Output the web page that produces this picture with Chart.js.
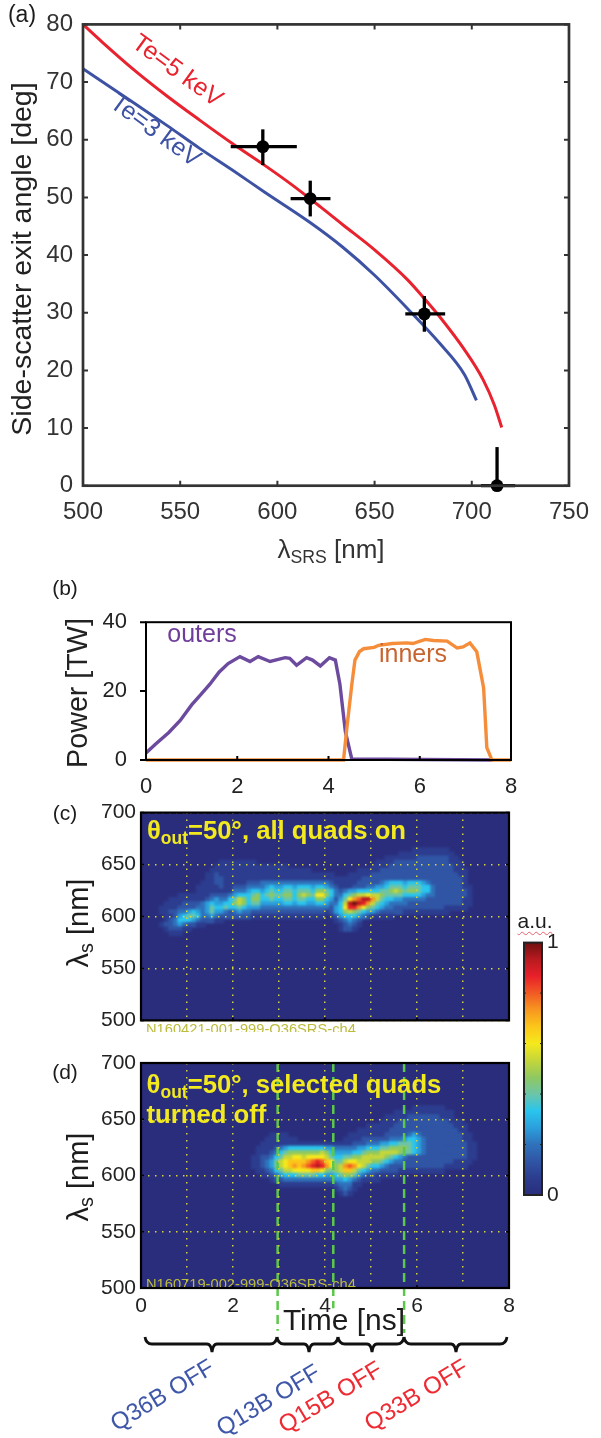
<!DOCTYPE html>
<html>
<head>
<meta charset="utf-8">
<title>SRS side-scatter</title>
<script src="https://cdn.jsdelivr.net/npm/chart.js@4/dist/chart.umd.min.js"></script>
<style>
  html, body { margin: 0; padding: 0; background: #fff; overflow: hidden; }
  #page { position: relative; width: 601px; height: 1438px; overflow: hidden; font-family: "Liberation Sans", sans-serif; color: #222; filter: blur(0.45px); }
  #page canvas { position: absolute; left: 0; }
  .txt { position: absolute; white-space: nowrap; line-height: 1; transform-origin: center; }
  .txt sub { font-size: 68%; line-height: 0; vertical-align: -0.3em; }
</style>
</head>
<body>
<div id="page"></div>
<script>
/* (a) */
const te5Lambda = [500, 510, 527, 543.5, 560, 577, 592, 607, 622, 633.5, 650, 667, 677, 683.5, 696.2, 705.8, 711.6, 715.4];
const te5Angle = [80, 76.9, 71.9, 67.5, 63.4, 59.3, 55.9, 52.3, 48.4, 45.3, 40.9, 35.7, 31.9, 29.3, 23.6, 18.4, 14, 10.1];
const te3Lambda = [500, 527, 543.5, 560, 577, 593.5, 617, 633.5, 650, 667, 683.5, 696.2, 702.4];
const te3Angle = [72.3, 66.2, 62.4, 58.5, 54.7, 50.9, 45.6, 41.4, 36.5, 30.7, 24.7, 19.3, 14.8];
const dataLambda = [592.5, 616.9, 675.6, 713];
const dataAngle = [58.8, 49.8, 29.8, 0];
const lambdaLow = [576, 606.8, 665.8, 704.7];
const lambdaHigh = [610, 627.3, 686.3, 722.3];
const angleLow = [55.6, 46.7, 26.7, 0];
const angleHigh = [61.8, 52.9, 32.9, 6.7];

/* (b) */
const outersTime = [0, 0.2, 0.5, 0.75, 1, 1.2, 1.4, 1.6, 1.8, 2.06, 2.28, 2.46, 2.72, 3.05, 3.15, 3.3, 3.52, 3.65, 3.82, 4.02, 4.15, 4.25, 4.37, 4.51, 7.6];
const outersPower = [2, 4.5, 8, 11.5, 16, 19, 22, 25.5, 28, 30, 28.6, 30, 28.6, 29.7, 29.5, 27.5, 29.7, 29, 27.3, 29.7, 29, 22, 8.2, 0.3, 0];
const innersTime = [0, 4.33, 4.4, 4.51, 4.58, 4.68, 4.77, 5, 5.1, 5.4, 5.72, 5.85, 6.12, 6.3, 6.6, 6.82, 6.95, 7.1, 7.25, 7.4, 7.47, 7.52, 7.58, 8];
const innersPower = [0, 0, 9, 21.8, 29, 31.5, 32.3, 32.7, 33.3, 33.8, 34, 33.8, 35, 34.7, 34.5, 32.5, 32.8, 34, 31.4, 20.9, 3.6, 2, 0, 0];

/* (c), (d): one hex digit per cell, 0.1 ns wide, one row per wavelength */
const heatLambda = [664, 660, 656, 652, 648, 644, 640, 636, 632, 628, 624, 620, 616, 612, 608, 604, 600, 596, 592, 588, 584];
const heatRowsC = [
  "0000000000 0000000000 0000000000 0000000000 0000000000 0000000001 1111111000 0000000000",
  "0000000000 0000000000 0000000000 0000000000 0000000000 0000001111 1111111100 0000000000",
  "0000000000 0000000000 0000000000 0000000000 0000000000 0001111111 2222222110 0000000000",
  "0000000000 0000000111 1111100000 0000000000 0000000000 0111122222 2222222111 0000000000",
  "0000000000 0000001111 1111111111 1100000000 0000000000 1111222222 2222222211 0000000000",
  "0000000000 0000011111 1111111111 1111111000 0000000111 1122222222 2222222211 1000000000",
  "0000000000 0000112111 1111111111 1111111111 1100011111 2222222222 2222222221 1000000000",
  "0000000000 0000112211 1111111111 1111111111 1111111122 2222222222 2222222222 1000000000",
  "0000000000 0001112211 1112223333 3333333333 3211111222 2234555455 5432222222 1000000000",
  "0000000000 0011111211 2223333454 4554555455 4321112223 3445666566 6553222222 1100000000",
  "0000000000 0011111111 3334554565 5665666577 6532344555 5566787677 6553222222 2100000000",
  "0000000011 1111122223 4555675676 6775787699 7533567889 8876666555 5433222222 2100000000",
  "0000001111 1111234335 6875775565 5665665577 542469bcee b865544333 3322222222 1100000000",
  "0000011112 2223454455 7875664444 4554554455 43358efedb 8654333322 2222222222 1100000000",
  "0000111122 2233465565 5654443333 3333333333 32459ddb97 6543322222 2222221111 1000000000",
  "0000112233 4543464432 3433222222 2222222222 1245787654 4322222111 1111111000 0000000000",
  "0000011245 6653343222 2222111111 1111111111 0124555432 1111100000 0000000000 0000000000",
  "0000012355 5432221100 0000000000 0000000000 0012343200 0000000000 0000000000 0000000000",
  "0000122343 2211000000 0000000000 0000000000 0001232100 0000000000 0000000000 0000000000",
  "0000012221 1000000000 0000000000 0000000000 0001221000 0000000000 0000000000 0000000000",
  "0000001110 0000000000 0000000000 0000000000 0000000000 0000000000 0000000000 0000000000"
];
const heatRowsD = [
  "0000000000 0000000000 0000000000 0000000000 0000000000 0000000000 0000000000 0000000000",
  "0000000000 0000000000 0000000000 0000000000 0000000000 0000000001 1111110000 0000000000",
  "0000000000 0000000000 0000000000 0000000000 0000000000 0000011111 1111111100 0000000000",
  "0000000000 0000000000 0000000000 0000000000 0000000000 0001111122 2222211100 0000000000",
  "0000000000 0000000000 0000000000 0000000000 0000000000 0011112222 2222222111 0000000000",
  "0000000000 0000000000 0000000000 0000000000 0000000001 1111122222 2222222211 1000000000",
  "0000000000 0000000000 0000000000 0000000000 0000000111 1111222222 2222222221 1000000000",
  "0000000000 0000000000 0000000011 1100000000 0000011111 1112222234 3222222222 1100000000",
  "0000000000 0000000000 0000000111 1111000000 0000111122 2222333455 4322222222 1100000000",
  "0000000000 0000000000 0000001111 1111111111 1111112223 3344556665 4322222222 2110000000",
  "0000000000 0000000000 0000011112 3455555555 4433333445 5566777765 4322222222 2110000000",
  "0000000000 0000000000 0000011123 5677777778 7544445567 7788887665 4322222222 2110000000",
  "0000000000 0000000000 0000112235 6889989999 8655667788 8887654322 2222222222 2110000000",
  "0000000000 0000000000 0000112346 89aaaabcdc a966899888 7765433222 2222222211 1100000000",
  "0000000000 0000000000 0000112346 89ababcded b978bcb986 5543222222 2222221111 1000000000",
  "0000000000 0000000000 0000011235 6889999aa9 7678aa8654 3322221111 1111110000 0000000000",
  "0000000000 0000000000 0000001123 4555666655 4456776432 2111110000 0000000000 0000000000",
  "0000000000 0000000000 0000000012 2333333333 3344543211 1100000000 0000000000 0000000000",
  "0000000000 0000000000 0000000000 1111111111 1123331100 0000000000 0000000000 0000000000",
  "0000000000 0000000000 0000000000 0000000000 0012321000 0000000000 0000000000 0000000000",
  "0000000000 0000000000 0000000000 0000000000 0001210000 0000000000 0000000000 0000000000"
];
const heatColors = ["#2a2d7c", "#2c3c8e", "#3055a5", "#2f72bb", "#2b9fdc", "#2ac5ee", "#6cc5a8", "#90c860",
                    "#c5d63a", "#f5e91c", "#fcc61a", "#f79720", "#f15a24", "#e8202a", "#b81a20", "#701010"];
const switchTimes = [2.97, 4.18, 5.72];
const switchLambda = [462, 482, 460];
const timeTicks = [0, 2, 4, 6, 8];

Chart.defaults.font.family = '"Liberation Sans", sans-serif';
Chart.defaults.color = "#222";
Chart.defaults.animation = false;
Chart.defaults.responsive = false;

const page = document.querySelector("#page");

function crearCanvas(top, height) {
  let c = document.createElement("canvas");
  c.width = 601;
  c.height = height;
  c.style.top = top + "px";
  c.style.width = "601px";
  c.style.height = height + "px";
  page.appendChild(c);
  return c;
}

function texto(html, x, y, size, color, rot, extra) {
  let s = document.createElement("span");
  s.className = "txt";
  s.innerHTML = html;
  s.style.left = x + "px";
  s.style.top = y + "px";
  s.style.fontSize = size + "px";
  s.style.color = color;
  s.style.transform = "translate(-50%,-50%) rotate(" + (rot || 0) + "deg)";
  if (extra) s.style.cssText += extra;
  page.appendChild(s);
  return s;
}

/* frame and short ticks, placed by the chart scales */
const frameTicks = {
  id: "frameTicks",
  afterDraw(chart, args, o) {
    const { ctx, chartArea: a, scales } = chart;
    ctx.save();
    ctx.strokeStyle = o.color;
    ctx.lineCap = "butt";
    ctx.lineWidth = o.tickWidth || 1.5;
    ctx.beginPath();
    if (o.xStep) {
      for (let v = scales.x.min; v <= scales.x.max + 1e-6; v += o.xStep) {
        const p = scales.x.getPixelForValue(v);
        ctx.moveTo(p, a.bottom); ctx.lineTo(p, a.bottom - o.len);
        if (o.xTop) { ctx.moveTo(p, a.top); ctx.lineTo(p, a.top + o.len); }
      }
    }
    if (o.yStep) {
      for (let v = scales.y.min; v <= scales.y.max + 1e-6; v += o.yStep) {
        const p = scales.y.getPixelForValue(v);
        if (o.yOut) { ctx.moveTo(a.left, p); ctx.lineTo(a.left - o.yOut, p); }
        else { ctx.moveTo(a.left, p); ctx.lineTo(a.left + o.len, p); }
        if (o.yRight) { ctx.moveTo(a.right, p); ctx.lineTo(a.right - o.len, p); }
      }
    }
    ctx.stroke();
    ctx.lineWidth = o.width;
    ctx.strokeRect(a.left, a.top, a.right - a.left, a.bottom - a.top);
    ctx.restore();
  }
};

/* navy background and soft edges for the spectrogram cells */
const heatPlot = {
  id: "heatPlot",
  beforeDatasetsDraw(chart) {
    const { ctx, chartArea: a } = chart;
    ctx.save();
    ctx.fillStyle = heatColors[0];
    ctx.fillRect(a.left, a.top, a.right - a.left, a.bottom - a.top);
    ctx.restore();
  },
  afterDatasetDraw(chart, args) {
    if (chart.data.datasets[args.index].label !== "heat") return;
    const { ctx, chartArea: a, canvas } = chart;
    const w = a.right - a.left, h = a.bottom - a.top;
    ctx.save();
    ctx.beginPath();
    ctx.rect(a.left, a.top, w, h);
    ctx.clip();
    ctx.filter = "blur(1.3px)";
    ctx.drawImage(canvas, a.left, a.top, w, h, a.left, a.top, w, h);
    ctx.restore();
  }
};

function juntar(xs, ys) {
  return xs.map((x, i) => ({ x: x, y: ys[i] }));
}

/* ---------- panel (a) ---------- */
function panelA() {
  let barras = [];
  dataLambda.forEach((l, i) => {
    barras.push({ data: [{ x: lambdaLow[i], y: dataAngle[i] }, { x: lambdaHigh[i], y: dataAngle[i] }] });
    barras.push({ data: [{ x: l, y: angleLow[i] }, { x: l, y: angleHigh[i] }] });
  });
  barras = barras.map(b => ({ ...b, showLine: true, borderColor: "#000", borderWidth: 3.3, pointRadius: 0, clip: false, order: 2 }));

  new Chart(crearCanvas(0, 560), {
    type: "scatter",
    data: {
      datasets: [
        { label: "Te=5 keV", data: juntar(te5Lambda, te5Angle), showLine: true, borderColor: "#e8222e", borderWidth: 3, pointRadius: 0, cubicInterpolationMode: "monotone", clip: false, order: 3 },
        { label: "Te=3 keV", data: juntar(te3Lambda, te3Angle), showLine: true, borderColor: "#3d52a3", borderWidth: 3, pointRadius: 0, cubicInterpolationMode: "monotone", clip: false, order: 3 },
        ...barras,
        { label: "data", data: juntar(dataLambda, dataAngle), pointRadius: 6.4, backgroundColor: "#000", borderWidth: 0, clip: false, order: 1 }
      ]
    },
    options: {
      layout: { padding: { top: 18.3, right: 601 - 582.7 } },
      plugins: { legend: { display: false }, tooltip: { enabled: false },
        frameTicks: { color: "#333", width: 2.7, len: 5, xStep: 50, yStep: 10, xTop: true, yRight: true, tickWidth: 2 } },
      scales: {
        x: { type: "linear", min: 500, max: 750, afterFit: s => { s.height = 560 - 485.7; },
          ticks: { stepSize: 50, padding: 12, color: "#333", font: { size: 24 }, maxRotation: 0 },
          grid: { display: false, drawTicks: false }, border: { display: false } },
        y: { type: "linear", min: 0, max: 80, afterFit: s => { s.width = 83; },
          ticks: { stepSize: 10, padding: 10, color: "#333", font: { size: 24 } },
          grid: { display: false, drawTicks: false }, border: { display: false } }
      }
    },
    plugins: [frameTicks]
  });
}

/* ---------- panel (b) ---------- */
function panelB() {
  new Chart(crearCanvas(590, 210), {
    type: "scatter",
    data: {
      datasets: [
        { label: "outers", data: juntar(outersTime, outersPower), showLine: true, borderColor: "#6c4a9e", borderWidth: 3.4, pointRadius: 0, clip: false, order: 2 },
        { label: "inners", data: juntar(innersTime, innersPower), showLine: true, borderColor: "#f58d3a", borderWidth: 3.4, pointRadius: 0, clip: false, order: 1 }
      ]
    },
    options: {
      layout: { padding: { top: 23, right: 601 - 511 } },
      plugins: { legend: { display: false }, tooltip: { enabled: false },
        frameTicks: { color: "#000", width: 2, len: 4, xStep: 2, yStep: 20, yOut: 6, tickWidth: 2 } },
      scales: {
        x: { type: "linear", min: 0, max: 8, afterFit: s => { s.height = 40; },
          ticks: { stepSize: 2, padding: 14, color: "#222", font: { size: 22 }, maxRotation: 0 },
          grid: { display: false, drawTicks: false }, border: { display: false } },
        y: { type: "linear", min: 0, max: 40, afterFit: s => { s.width = 146; },
          ticks: { stepSize: 20, padding: 19, color: "#222", font: { size: 22 } },
          grid: { display: false, drawTicks: false }, border: { display: false } }
      }
    },
    plugins: [frameTicks]
  });
}

/* ---------- panels (c) and (d) ---------- */
function celdas(rows) {
  let puntos = [];
  rows.forEach((fila, r) => {
    fila.replace(/ /g, "").split("").forEach((d, c) => {
      const v = parseInt(d, 16);
      if (v > 0) puntos.push({ x: (c + 0.5) * 0.1, y: heatLambda[r], v: v });
    });
  });
  return puntos;
}

function panelHeat(top, plotTop, xHeight, rows, conTicks, extraSets) {
  const alto = plotTop - top + 225 + xHeight;
  new Chart(crearCanvas(top, alto), {
    type: "scatter",
    data: {
      datasets: [
        { label: "heat", data: celdas(rows), pointStyle: "rect", pointRadius: 3.9, borderWidth: 0,
          backgroundColor: c => c.raw ? heatColors[c.raw.v] : heatColors[0], order: 5 },
        ...extraSets
      ]
    },
    options: {
      layout: { padding: { top: plotTop - top, right: 601 - 509 } },
      plugins: { legend: { display: false }, tooltip: { enabled: false },
        frameTicks: { color: "#000", width: 2.2, len: 3, xStep: 2, yStep: 50, yRight: true, tickWidth: 1.5 } },
      scales: {
        x: { type: "linear", min: 0, max: 8, afterFit: s => { s.height = xHeight; },
          ticks: { display: conTicks, stepSize: 1, padding: 6, color: "#222", font: { size: 21 }, maxRotation: 0, autoSkip: false,
            callback: v => timeTicks.includes(v) ? v : "" },
          grid: { color: "#d6d63c", lineWidth: 1.5, z: 1, drawTicks: false },
          border: { display: false, dash: [1.5, 5.5] } },
        y: { type: "linear", min: 500, max: 700, afterFit: s => { s.width = 141; },
          ticks: { stepSize: 50, padding: 5, color: "#222", font: { size: 21 } },
          grid: { color: "#d6d63c", lineWidth: 1.5, z: 1, drawTicks: false },
          border: { display: false, dash: [1.5, 5.5] } }
      }
    },
    plugins: [heatPlot, frameTicks]
  });
}

/* ---------- colorbar ---------- */
function panelBarra() {
  const top = 925, plotH = 256, bajo = 25;
  new Chart(crearCanvas(top, 14 + plotH + bajo), {
    type: "bar",
    data: {
      labels: ["a.u."],
      datasets: [{
        data: [[0, 1]],
        barPercentage: 1,
        categoryPercentage: 1,
        backgroundColor: c => {
          const a = c.chart.chartArea;
          if (!a) return heatColors[0];
          const g = c.chart.ctx.createLinearGradient(0, a.bottom, 0, a.top);
          heatColors.forEach((col, i) => g.addColorStop(i / (heatColors.length - 1), col));
          return g;
        }
      }]
    },
    options: {
      layout: { padding: { top: 14, left: 524, bottom: bajo } },
      plugins: { legend: { display: false }, tooltip: { enabled: false },
        frameTicks: { color: "#222", width: 2, len: 2, yStep: 0.2, yRight: true, tickWidth: 1 } },
      scales: {
        x: { display: false },
        y: { position: "right", min: 0, max: 1, afterFit: s => { s.width = 59; },
          ticks: { stepSize: 1, padding: 5, color: "#222", font: { size: 21 } },
          grid: { display: false, drawTicks: false }, border: { display: false } }
      }
    },
    plugins: [frameTicks]
  });
}

panelA();
panelB();
panelHeat(795, 808, 5, heatRowsC, false, []);
panelHeat(1045, 1063, 50, heatRowsD, true, switchTimes.map((t, i) => ({
  label: "switch" + i,
  data: [{ x: t, y: 700 }, { x: t, y: switchLambda[i] }],
  showLine: true, borderColor: "#5cc84a", borderWidth: 2.5, borderDash: [9, 5], pointRadius: 0, clip: false, order: 1
})));
panelBarra();

/* ---------- text ---------- */
const negro = "#1c1c1c", amarillo = "#f2ea1e", azul = "#3f57a8", rojo = "#ee2a33";
texto("(a)", 22, 14, 23, negro);
texto("(b)", 65, 587, 21, negro);
texto("(c)", 65, 812, 21, negro);
texto("(d)", 65, 1071, 21, negro);

texto("Side-scatter exit angle [deg]", 21, 259, 28.5, "#222", -90);
texto("λ<sub>SRS</sub> [nm]", 331, 549, 26, "#333");
texto("Te=5 keV", 178, 70, 25, "#e8222e", 36);
texto("Te=3 keV", 156, 130, 25, "#3d52a3", 36);

texto("Power [TW]", 77, 693, 28.7, "#222", -90);
texto("outers", 202, 633, 25, "#6f3d9a");
texto("inners", 413, 653, 25, "#c8642f");

texto("λ<sub>s</sub> [nm]", 78, 923, 29, negro, -90);
texto("λ<sub>s</sub> [nm]", 78, 1177, 29, negro, -90);

const estiloAmarillo = "font-weight:bold;";
texto("θ<sub>out</sub>=50°, all quads on", 276.5, 831, 25.7, amarillo, 0, estiloAmarillo);
texto("θ<sub>out</sub>=50°, selected quads", 294, 1085, 25.7, amarillo, 0, estiloAmarillo);
texto("turned off", 206.5, 1115, 25.7, amarillo, 0, estiloAmarillo);

function rotulo(str, left, bottom) {
  let s = document.createElement("span");
  s.className = "txt";
  s.textContent = str;
  s.style.cssText += "left:" + left + "px;top:" + (bottom - 10) + "px;height:10px;overflow:hidden;font-size:14.7px;color:#bcbc3c;";
  page.appendChild(s);
}
rotulo("N160421-001-999-Q36SRS-ch4", 146, 1032);
rotulo("N160719-002-999-Q36SRS-ch4", 146, 1287);

texto("a.u.", 535, 920, 21, negro, 0, "text-decoration:underline wavy #e8606a 1px;text-underline-offset:3px;");
texto("Time [ns]", 344, 1320, 30, negro);

texto("Q36B OFF", 162, 1395, 24, azul, -31);
texto("Q13B OFF", 268, 1400, 24, azul, -31);
texto("Q15B OFF", 330, 1397, 24, rojo, -31);
texto("Q33B OFF", 416, 1395, 24, rojo, -31);

/* braces under the time axis */
const llaves = [[145, 212, 277], [277, 309, 338], [338, 372, 404], [404, 456, 507]];
const svgNS = "http://www.w3.org/2000/svg";
let svg = document.createElementNS(svgNS, "svg");
svg.setAttribute("width", 601);
svg.setAttribute("height", 120);
svg.style.cssText = "position:absolute;left:0;top:1320px;";
llaves.forEach(([a, m, b]) => {
  let p = document.createElementNS(svgNS, "path");
  const d = `M${a} 17 Q${a + 1} 24 ${a + 7} 24 L${m - 5} 24 Q${m - 1} 24 ${m} 32 Q${m + 1} 24 ${m + 5} 24 L${b - 7} 24 Q${b - 1} 24 ${b} 17`;
  p.setAttribute("d", d);
  p.setAttribute("fill", "none");
  p.setAttribute("stroke", "#111");
  p.setAttribute("stroke-width", "2.8");
  svg.appendChild(p);
});
page.appendChild(svg);
</script>
</body>
</html>
